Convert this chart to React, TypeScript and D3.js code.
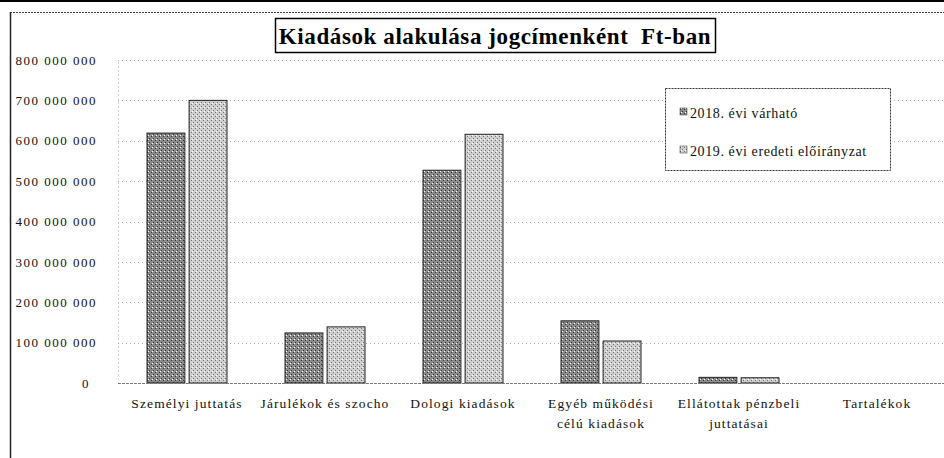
import React, { useEffect, useRef } from "react";
import * as d3 from "d3";

const categories = [
  ["Személyi juttatás"],
  ["Járulékok és szocho"],
  ["Dologi kiadások"],
  ["Egyéb működési", "célú kiadások"],
  ["Ellátottak pénzbeli", "juttatásai"],
  ["Tartalékok"],
];
const series = ["2018. évi várható", "2019. évi eredeti előirányzat"];
const values2018 = [619000000, 124000000, 527000000, 154000000, 14000000, 0];
const values2019 = [700000000, 139000000, 616000000, 104000000, 13000000, 0];
const yTicks = [0, 100000000, 200000000, 300000000, 400000000, 500000000, 600000000, 700000000, 800000000];
const fills = ["url(#dark)", "url(#light)"];

const W = 944;
const H = 458;
const fontFam = "'Liberation Serif', 'DejaVu Serif', serif";

const fmt = (v: number) => (v === 0 ? "0" : d3.format(",")(v).replace(/,/g, " "));

export default function App() {
  const ref = useRef<SVGSVGElement>(null);

  useEffect(() => {
    const svg = d3.select(ref.current);
    svg.selectAll("*").remove();

    const defs = svg.append("defs");
    const mk = (id: string, base: string, dot: string) => {
      const p = defs.append("pattern").attr("id", id).attr("width", 4).attr("height", 4).attr("patternUnits", "userSpaceOnUse");
      p.append("rect").attr("width", 4).attr("height", 4).attr("fill", base);
      p.append("rect").attr("x", 0).attr("y", 0).attr("width", 1).attr("height", 1).attr("fill", dot);
      p.append("rect").attr("x", 2).attr("y", 2).attr("width", 1).attr("height", 1).attr("fill", dot);
      p.append("rect").attr("x", 1).attr("y", 3).attr("width", 1).attr("height", 1).attr("fill", "#fff");
    };
    mk("dark", "#8c8c8c", "#333");
    mk("light", "#cfcfcf", "#777");

    // outer frame
    svg.append("line").attr("x1", 0).attr("x2", W).attr("y1", 1).attr("y2", 1).attr("stroke", "#000").attr("stroke-width", 2);
    svg.append("line").attr("x1", 10).attr("x2", W).attr("y1", 12.5).attr("y2", 12.5).attr("stroke", "#444").attr("stroke-dasharray", "2,1");
    svg.append("line").attr("x1", 10.5).attr("x2", 10.5).attr("y1", 12).attr("y2", H).attr("stroke", "#222").attr("stroke-width", 1.5);

    const x0 = d3.scaleBand<string>().domain(categories.map((c) => c.join(" "))).range([118, 946]);
    const groupW = 80;
    const x1 = d3.scaleBand<string>().domain(series).range([0, groupW]).paddingInner(0.1);
    const y = d3.scaleLinear().domain([0, 800000000]).range([383, 60]);

    // gridlines
    svg
      .append("g")
      .selectAll("line")
      .data(yTicks.slice(1))
      .join("line")
      .attr("x1", 118)
      .attr("x2", W)
      .attr("y1", (d) => Math.round(y(d)) + 0.5)
      .attr("y2", (d) => Math.round(y(d)) + 0.5)
      .attr("stroke", "#aaa")
      .attr("stroke-dasharray", "1,3");

    // y axis
    const ya = svg
      .append("g")
      .attr("transform", "translate(118,0)")
      .call(d3.axisLeft(y).tickValues(yTicks).tickFormat((d) => fmt(+d)).tickSize(0).tickPadding(21));
    ya.select(".domain").attr("stroke", "#aaa").attr("stroke-dasharray", "1,3");
    ya.selectAll("text")
      .attr("font-family", fontFam)
      .attr("font-size", 13)
      .attr("letter-spacing", 1.5)
      .attr("fill", "#111");
    ya.selectAll<SVGTextElement, number>("text").filter((d) => d === 0).attr("dx", -7);

    // bars
    const groups = svg
      .append("g")
      .selectAll("g")
      .data(categories.map((c, i) => ({ key: c.join(" "), vals: [values2018[i], values2019[i]] })))
      .join("g")
      .attr("transform", (d) => `translate(${x0(d.key)! + (x0.bandwidth() - groupW) / 2},0)`);
    groups
      .selectAll("rect")
      .data((d) => d.vals.map((v, j) => ({ v, s: series[j], j })))
      .join("rect")
      .filter((d) => d.v > 0)
      .attr("x", (d) => x1(d.s)!)
      .attr("y", (d) => y(d.v))
      .attr("width", x1.bandwidth())
      .attr("height", (d) => y(0) - y(d.v))
      .attr("fill", (d) => fills[d.j])
      .attr("stroke", "#222")
      .attr("stroke-width", 1);

    // x axis line
    svg.append("line").attr("x1", 118).attr("x2", W).attr("y1", 383.5).attr("y2", 383.5).attr("stroke", "#777").attr("stroke-dasharray", "3,1");

    // category labels
    const lbl = svg
      .append("g")
      .selectAll("text")
      .data(categories)
      .join("text")
      .attr("x", (d) => x0(d.join(" "))! + x0.bandwidth() / 2)
      .attr("y", 408)
      .attr("text-anchor", "middle")
      .attr("font-family", fontFam)
      .attr("font-size", 13.5)
      .attr("letter-spacing", 1.1)
      .attr("fill", "#111");
    lbl
      .selectAll("tspan")
      .data((d) => d)
      .join("tspan")
      .attr("x", function () {
        return (this.parentNode as SVGTextElement).getAttribute("x");
      })
      .attr("dy", (_, i) => (i === 0 ? 0 : 20))
      .text((d) => d);

    // title
    svg.append("rect").attr("x", 275.5).attr("y", 18.5).attr("width", 440).attr("height", 34).attr("fill", "#fff").attr("stroke", "#000").attr("stroke-width", 1.5);
    svg
      .append("text")
      .attr("x", 495)
      .attr("y", 44)
      .attr("text-anchor", "middle")
      .attr("font-family", fontFam)
      .attr("font-weight", "bold")
      .attr("font-size", 23)
      .attr("letter-spacing", 0.6)
      .style("white-space", "pre")
      .attr("fill", "#000")
      .text("Kiadások alakulása jogcímenként  Ft-ban");

    // legend
    const lg = svg.append("g").attr("transform", "translate(665,88)");
    lg.append("rect").attr("x", 0.5).attr("y", 0.5).attr("width", 225).attr("height", 82).attr("fill", "#fff").attr("stroke", "#333").attr("stroke-dasharray", "2,1");
    const it = lg
      .selectAll("g.it")
      .data(series)
      .join("g")
      .attr("class", "it")
      .attr("transform", (_, i) => `translate(15,${25 + i * 38})`);
    it.append("rect").attr("x", 0).attr("y", -5).attr("width", 7).attr("height", 7).attr("fill", (_, i) => fills[i]).attr("stroke", "#333").attr("stroke-width", 0.5);
    it.append("text")
      .attr("x", 10)
      .attr("y", 0)
      .attr("dy", "0.35em")
      .attr("font-family", fontFam)
      .attr("font-size", 14)
      .attr("letter-spacing", 0.6)
      .attr("fill", "#111")
      .text((d) => d);
  }, []);

  return (
    <svg
      ref={ref}
      width={W}
      height={H}
      viewBox={`0 0 ${W} ${H}`}
      style={{ position: "absolute", left: 0, top: 0, background: "#fff" }}
    />
  );
}
